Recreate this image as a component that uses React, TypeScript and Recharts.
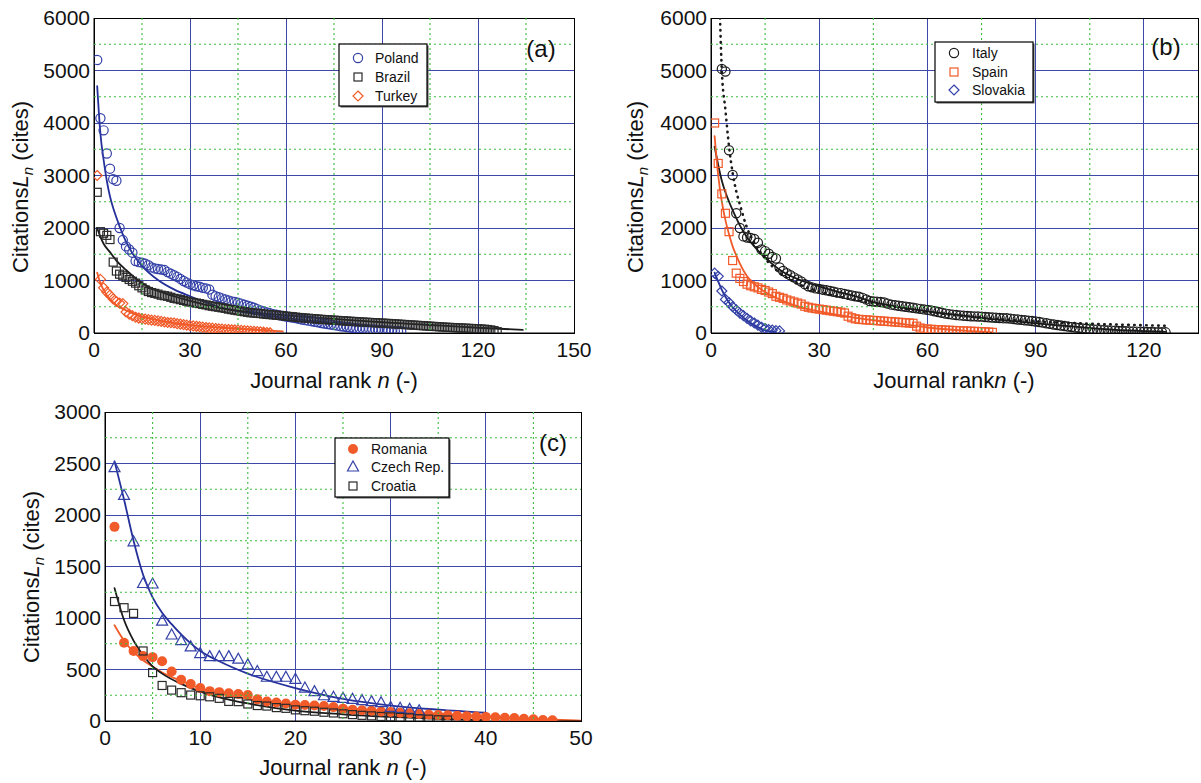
import React from "react";
import { ComposedChart, Scatter, Line, XAxis, YAxis, CartesianGrid, ReferenceArea } from "recharts";

// ---- panel (a): citations by journal rank ----
const polandL = [
  5200, 4090, 3860, 3420, 3130, 2930, 2900, 2000, 1770, 1650,
  1590, 1530, 1370, 1350, 1340, 1320, 1290, 1250, 1230, 1220,
  1210, 1200, 1160, 1130, 1100, 1070, 1030, 990, 960, 930,
  910, 890, 880, 860, 850, 830, 730, 700, 680, 660,
  640, 620, 600, 590, 575, 560, 540, 520, 500, 480,
  455, 430, 410, 390, 375, 360, 350, 335, 325, 315,
  305, 295, 285, 270, 255, 245, 235, 225, 215, 205,
  190, 180, 170, 160, 150, 140, 130, 122, 115, 105,
  95, 90, 85, 80, 75, 70, 68, 64, 60, 56,
  52, 46, 42, 38, 35, 32,
];
const brazilL = [
  2680, 1930, 1900, 1860, 1780, 1350, 1180, 1120, 1090, 1060,
  1020, 985, 950, 900, 860, 820, 790, 770, 755, 740,
  720, 710, 700, 680, 660, 650, 635, 620, 605, 590,
  580, 570, 560, 545, 535, 520, 510, 500, 490, 480,
  470, 455, 445, 435, 425, 415, 405, 395, 385, 380,
  375, 370, 362, 355, 350, 345, 340, 335, 330, 320,
  315, 310, 302, 295, 290, 285, 280, 275, 270, 265,
  260, 256, 252, 248, 244, 240, 236, 232, 228, 224,
  220, 216, 212, 208, 205, 202, 198, 195, 192, 189,
  185, 182, 178, 174, 170, 166, 162, 158, 154, 150,
  146, 142, 138, 134, 130, 126, 122, 118, 114, 110,
  107, 104, 101, 98, 95, 92, 89, 86, 83, 80,
  76, 72, 66, 58, 45, 25,
];
const turkeyL = [
  3000, 1020, 860, 780, 720, 650, 600, 570, 560, 400,
  360, 330, 300, 285, 275, 265, 255, 245, 240, 230,
  220, 210, 200, 195, 190, 180, 170, 160, 150, 140,
  135, 128, 120, 112, 105, 98, 92, 85, 80, 75,
  70, 66, 62, 58, 54, 50, 45, 40, 36, 32,
  27, 22, 15, 10, 5,
];
const polandFitN = [1, 2, 3, 4, 5, 6, 7, 8, 10, 12, 15, 20, 25, 30, 40, 50, 60, 70, 80, 90, 100];
const polandFitL = [4700, 3800, 3300, 2900, 2600, 2380, 2200, 2030, 1740, 1520, 1280, 1010, 830, 700, 480, 365, 285, 220, 165, 120, 85];
const brazilFitN = [1, 2, 3, 5, 7, 10, 15, 20, 25, 30, 40, 50, 60, 70, 80, 90, 100, 110, 120, 134];
const brazilFitL = [2000, 1830, 1700, 1540, 1380, 1200, 950, 800, 700, 610, 470, 390, 335, 290, 245, 205, 170, 135, 100, 60];
const turkeyFitN = [1, 2, 3, 4, 5, 7, 10, 15, 20, 25, 30, 40, 50, 59];
const turkeyFitL = [1150, 950, 820, 720, 645, 530, 430, 310, 245, 190, 152, 100, 62, 30];

// ---- panel (b) ----
const italyStart = 3;
const italyL = [
  5030, 4980, 3480, 3010, 2280, 2000, 1840, 1820, 1810, 1790,
  1720, 1590, 1560, 1510, 1450, 1420, 1250, 1180, 1140, 1100,
  1060, 1020, 980, 930, 890, 870, 850, 840, 825, 815,
  800, 785, 770, 760, 745, 730, 715, 700, 690, 670,
  640, 610, 600, 595, 590, 580, 560, 540, 530, 520,
  510, 500, 490, 480, 470, 460, 450, 440, 430, 415,
  400, 385, 370, 360, 350, 343, 335, 330, 325, 320,
  317, 314, 311, 305, 300, 295, 290, 285, 282, 280,
  273, 265, 258, 250, 243, 235, 228, 220, 210, 198,
  186, 174, 162, 152, 142, 132, 122, 112, 104, 96,
  89, 82, 76, 70, 65, 60, 55, 50, 46, 43,
  40, 37, 34, 31, 29, 27, 25, 23, 21, 19,
  17, 15, 14, 13,
];
const spainL = [
  4000, 3230, 2650, 2280, 1930, 1380, 1140, 1040, 980, 930,
  900, 880, 860, 830, 810, 780, 750, 700, 680, 660,
  630, 610, 590, 570, 550, 510, 490, 475, 465, 455,
  445, 435, 425, 415, 405, 395, 380, 320, 290, 270,
  260, 255, 250, 245, 240, 235, 230, 225, 220, 215,
  210, 205, 200, 195, 190, 185, 130, 95, 80, 75,
  70, 66, 62, 58, 55, 52, 49, 46, 43, 40,
  37, 34, 31, 28, 25, 22, 18, 12,
];
const slovakiaL = [1140, 1080, 800, 640, 580, 500, 440, 380, 330, 280, 230, 190, 150, 110, 85, 65, 55, 45, 40];
const italyFitN = [1, 2, 3, 4, 5, 6, 8, 10, 12, 15, 18, 20, 25, 30, 35, 40, 45, 50, 60, 70, 75, 80, 90, 100, 106, 110, 120, 126];
const italyFitL = [3550, 3200, 2900, 2680, 2500, 2340, 2050, 1820, 1650, 1430, 1260, 1160, 1000, 890, 790, 700, 590, 520, 410, 330, 285, 250, 185, 125, 90, 70, 35, 20];
const italyFit2N = [2.5, 3, 4, 5, 6, 7, 8, 10, 12, 15, 20, 25, 30, 40, 50, 60, 70, 80, 90, 100, 110, 120, 126];
const italyFit2L = [6000, 5000, 4250, 3550, 3050, 2700, 2450, 2000, 1720, 1420, 1100, 910, 790, 630, 510, 400, 325, 265, 220, 190, 165, 148, 138];
const spainFitN = [1, 2, 3, 4, 5, 6, 7, 8, 10, 12, 15, 20, 25, 30, 40, 50, 60, 70, 78];
const spainFitL = [3750, 3000, 2500, 2150, 1880, 1650, 1480, 1320, 1080, 930, 780, 610, 490, 410, 290, 200, 105, 45, 10];
const slovakiaFitN = [1, 2, 3, 4, 5, 6, 8, 10, 12, 14, 16, 18];
const slovakiaFitL = [1150, 980, 820, 690, 580, 490, 350, 240, 150, 80, 35, 10];

// ---- panel (c) ----
const romaniaL = [
  1885, 760, 680, 630, 620, 580, 480, 400, 360, 320,
  290, 280, 270, 262, 252, 210, 190, 180, 170, 158,
  155, 150, 145, 135, 120, 110, 105, 100, 92, 88,
  80, 75, 68, 62, 59, 55, 50, 47, 43, 40,
  36, 32, 28, 22, 16, 10, 7,
];
const czechL = [
  2460, 2190, 1740, 1335, 1330, 970, 835, 780, 720, 655,
  625, 625, 625, 600, 545, 480, 425, 425, 425, 405,
  320, 285, 245, 230, 220, 210, 198, 188, 178, 132,
  123, 113, 100,
];
const croatiaL = [
  1160, 1100, 1045, 680, 470, 345, 300, 275, 252, 245,
  235, 220, 190, 188, 165, 150, 145, 130, 123, 108,
  100, 95, 85, 78, 70, 62, 55, 50, 44, 40,
  35, 30, 22, 18, 12, 10,
];
const czechFitN = [1, 2, 3, 4, 5, 6, 7, 8, 10, 12, 15, 20, 25, 30, 35, 40];
const czechFitL = [2520, 2150, 1750, 1420, 1200, 1050, 940, 840, 680, 580, 460, 320, 215, 150, 110, 80];
const romaniaFitN = [1, 2, 3, 4, 5, 6, 8, 10, 12, 15, 20, 25, 30, 35, 40, 45, 50];
const romaniaFitL = [930, 780, 670, 590, 530, 470, 390, 315, 270, 215, 160, 125, 95, 70, 45, 20, 3];
const croatiaFitN = [1, 2, 3, 4, 5, 6, 8, 10, 12, 15, 20, 25, 30, 35, 40];
const croatiaFitL = [1290, 980, 780, 640, 530, 460, 360, 285, 230, 170, 100, 65, 40, 22, 10];

// axis ticks
const ticksA = [0, 30, 60, 90, 120, 150];
const minorA = [15, 45, 75, 105, 135];
const ticksB = [0, 30, 60, 90, 120];
const minorB = [15, 45, 75, 105];
const ticksC = [0, 10, 20, 30, 40, 50];
const minorC = [5, 15, 25, 35, 45];
const yTicks6000 = [0, 1000, 2000, 3000, 4000, 5000, 6000];
const yMinor6000 = [500, 1500, 2500, 3500, 4500, 5500];
const yTicks3000 = [0, 500, 1000, 1500, 2000, 2500, 3000];
const yMinor3000 = [250, 750, 1250, 1750, 2250, 2750];

const BLUE = "#3340a6";
const BLUE_LINE = "#25309a";
const RED = "#f15a29";
const BLACK = "#1a1a1a";
const GRID = "#3d48a8";
const MINOR = "#3dbd3d";
const FONT = "'Liberation Sans', Arial, Helvetica, sans-serif";
const X_AXIS_H = 30;

type Pt = { x: number; y: number };
const seq = (vals: number[], start = 1): Pt[] => vals.map((y, i) => ({ x: i + start, y }));
const pairs = (ns: number[], ls: number[]): Pt[] => ns.map((x, i) => ({ x, y: ls[i] }));

type Kind = "circle" | "square" | "diamond" | "triangle" | "dot";

function Marker({ kind, cx, cy, color }: { kind: Kind; cx: number; cy: number; color: string }) {
  const s = { fill: "none", stroke: color, strokeWidth: 1.2 };
  if (kind === "circle") return <circle cx={cx} cy={cy} r={4.6} {...s} />;
  if (kind === "dot") return <circle cx={cx} cy={cy} r={5} fill={color} />;
  if (kind === "square") return <rect x={cx - 4} y={cy - 4} width={8} height={8} {...s} />;
  if (kind === "diamond")
    return <path d={`M${cx},${cy - 5}L${cx + 5},${cy}L${cx},${cy + 5}L${cx - 5},${cy}Z`} {...s} />;
  return <path d={`M${cx},${cy - 6}L${cx + 5.5},${cy + 4}L${cx - 5.5},${cy + 4}Z`} {...s} />;
}

interface Series { name: string; pts: Pt[]; kind: Kind; color: string }
interface Fit { pts: Pt[]; color: string; dotted?: boolean }

interface PanelProps {
  left: number; top: number; width: number; height: number;
  margin: { top: number; right: number; bottom: number; left: number };
  yWidth: number;
  xDomain: [number, number]; xTicks: number[]; xMinor: number[];
  yDomain: [number, number]; yTicks: number[]; yMinor: number[];
  series: Series[]; fits: Fit[];
}

// dotted minor grid over the same plot box as the chart
function MinorGrid(p: PanelProps) {
  const [x0, x1] = p.xDomain;
  const [y0, y1] = p.yDomain;
  const L = p.margin.left + p.yWidth;
  const R = p.width - p.margin.right;
  const T = p.margin.top;
  const B = p.height - p.margin.bottom - X_AXIS_H;
  const sx = (v: number) => L + ((v - x0) / (x1 - x0)) * (R - L);
  const sy = (v: number) => B - ((v - y0) / (y1 - y0)) * (B - T);
  return (
    <svg width={p.width} height={p.height} style={{ position: "absolute", left: 0, top: 0, pointerEvents: "none" }}>
      {p.xMinor.map((v) => (
        <line key={"x" + v} x1={sx(v)} x2={sx(v)} y1={T} y2={B} stroke={MINOR} strokeWidth={1.1} strokeDasharray="2 3" />
      ))}
      {p.yMinor.map((v) => (
        <line key={"y" + v} x1={L} x2={R} y1={sy(v)} y2={sy(v)} stroke={MINOR} strokeWidth={1.1} strokeDasharray="2 3" />
      ))}
    </svg>
  );
}

function Panel(p: PanelProps) {
  const [x0, x1] = p.xDomain;
  const [y0, y1] = p.yDomain;
  return (
    <div style={{ position: "absolute", left: p.left, top: p.top, width: p.width, height: p.height }}>
      <div style={{ position: "absolute", left: 0, top: 0 }}>
        <ComposedChart width={p.width} height={p.height} margin={p.margin}>
          <CartesianGrid stroke={GRID} strokeWidth={1} shapeRendering="crispEdges" />
          <XAxis
            type="number" dataKey="x" domain={p.xDomain} ticks={p.xTicks} interval={0} allowDataOverflow
            tickLine={false} axisLine={{ stroke: "#000" }} tick={{ fill: "#111", fontSize: 21 }}
            tickSize={4} tickMargin={5} height={X_AXIS_H}
          />
          <YAxis
            type="number" dataKey="y" domain={p.yDomain} ticks={p.yTicks} interval={0} allowDataOverflow
            tickLine={false} axisLine={{ stroke: "#000" }} tick={{ fill: "#111", fontSize: 21 }}
            tickSize={4} tickMargin={0} width={p.yWidth}
          />
          <ReferenceArea x1={x0} x2={x1} y1={y0} y2={y1} fill="none" fillOpacity={0} stroke="#000" strokeWidth={1} ifOverflow="visible" shapeRendering="crispEdges" />
          {p.series.map((s) => (
            <Scatter
              key={s.name} name={s.name} data={s.pts} dataKey="y" isAnimationActive={false}
              shape={(sp: any) => <Marker kind={s.kind} cx={sp.cx} cy={sp.cy} color={s.color} />}
            />
          ))}
          {p.fits.map((f, i) => (
            <Line
              key={"fit" + i} data={f.pts} dataKey="y" type="monotone" dot={false} activeDot={false}
              stroke={f.color} strokeWidth={f.dotted ? 2.6 : 1.8}
              strokeDasharray={f.dotted ? "0.5 5.5" : undefined} strokeLinecap="round"
              isAnimationActive={false}
            />
          ))}
        </ComposedChart>
      </div>
      <MinorGrid {...p} />
    </div>
  );
}

function YTitle({ x, y }: { x: number; y: number }) {
  return (
    <text transform={`rotate(-90 ${x} ${y})`} x={x} y={y + 8} textAnchor="middle" fontSize={22} fill="#111">
      Citations<tspan fontStyle="italic">L</tspan>
      <tspan fontStyle="italic" fontSize={15} dy={5}>n</tspan>
      <tspan dy={-5}> (cites)</tspan>
    </text>
  );
}

function XTitle({ x, y, gap }: { x: number; y: number; gap: boolean }) {
  return (
    <text x={x} y={y + 8} textAnchor="middle" fontSize={22} fill="#111">
      {gap ? "Journal rank " : "Journal rank"}<tspan fontStyle="italic">n</tspan> (-)
    </text>
  );
}

function LegendBox({ x, y, w, h, rows, mx, tx, items }: {
  x: number; y: number; w: number; h: number; rows: number[]; mx: number; tx: number; items: Series[];
}) {
  return (
    <g>
      <rect x={x + 1.5} y={y + 1.5} width={w} height={h} fill="#555" />
      <rect x={x} y={y} width={w} height={h} fill="#fff" stroke="#000" strokeWidth={1.2} />
      {items.map((s, i) => (
        <g key={s.name}>
          <Marker kind={s.kind} cx={x + mx} cy={rows[i]} color={s.color} />
          <text x={x + tx} y={rows[i] + 5} fontSize={14} fill="#111">{s.name}</text>
        </g>
      ))}
    </g>
  );
}

export default function App() {
  const seriesA: Series[] = [
    { name: "Poland", pts: seq(polandL), kind: "circle", color: BLUE },
    { name: "Brazil", pts: seq(brazilL), kind: "square", color: "#2a2a2a" },
    { name: "Turkey", pts: seq(turkeyL), kind: "diamond", color: RED },
  ];
  const fitsA: Fit[] = [
    { pts: pairs(polandFitN, polandFitL), color: BLUE_LINE },
    { pts: pairs(brazilFitN, brazilFitL), color: BLACK },
    { pts: pairs(turkeyFitN, turkeyFitL), color: RED },
  ];
  const seriesB: Series[] = [
    { name: "Italy", pts: seq(italyL, italyStart), kind: "circle", color: BLACK },
    { name: "Spain", pts: seq(spainL), kind: "square", color: RED },
    { name: "Slovakia", pts: seq(slovakiaL), kind: "diamond", color: BLUE },
  ];
  const fitsB: Fit[] = [
    { pts: pairs(italyFitN, italyFitL), color: BLACK },
    { pts: pairs(italyFit2N, italyFit2L), color: BLACK, dotted: true },
    { pts: pairs(spainFitN, spainFitL), color: RED },
    { pts: pairs(slovakiaFitN, slovakiaFitL), color: BLUE_LINE },
  ];
  const seriesC: Series[] = [
    { name: "Romania", pts: seq(romaniaL), kind: "dot", color: RED },
    { name: "Czech Rep.", pts: seq(czechL), kind: "triangle", color: BLUE },
    { name: "Croatia", pts: seq(croatiaL), kind: "square", color: "#2a2a2a" },
  ];
  const fitsC: Fit[] = [
    { pts: pairs(czechFitN, czechFitL), color: BLUE_LINE },
    { pts: pairs(romaniaFitN, romaniaFitL), color: RED },
    { pts: pairs(croatiaFitN, croatiaFitL), color: BLACK },
  ];

  return (
    <div style={{ position: "absolute", left: 0, top: 0, width: 1201, height: 783, background: "#fff", fontFamily: FONT, overflow: "hidden" }}>
      <Panel
        left={0} top={0} width={600} height={395}
        margin={{ top: 18, right: 26, bottom: 32, left: 0 }} yWidth={94}
        xDomain={[0, 150]} xTicks={ticksA} xMinor={minorA}
        yDomain={[0, 6000]} yTicks={yTicks6000} yMinor={yMinor6000}
        series={seriesA} fits={fitsA}
      />
      <Panel
        left={600} top={0} width={601} height={395}
        margin={{ top: 18, right: 3, bottom: 32, left: 0 }} yWidth={111}
        xDomain={[0, 135]} xTicks={ticksB} xMinor={minorB}
        yDomain={[0, 6000]} yTicks={yTicks6000} yMinor={yMinor6000}
        series={seriesB} fits={fitsB}
      />
      <Panel
        left={0} top={392} width={600} height={391}
        margin={{ top: 20, right: 19, bottom: 32, left: 0 }} yWidth={105}
        xDomain={[0, 50]} xTicks={ticksC} xMinor={minorC}
        yDomain={[0, 3000]} yTicks={yTicks3000} yMinor={yMinor3000}
        series={seriesC} fits={fitsC}
      />
      <svg width={1201} height={783} style={{ position: "absolute", left: 0, top: 0, pointerEvents: "none", fontFamily: FONT }}>
        <YTitle x={20} y={187} />
        <YTitle x={635} y={187} />
        <YTitle x={31} y={577} />
        <XTitle x={334} y={380} gap />
        <XTitle x={954} y={380} gap={false} />
        <XTitle x={343} y={767} gap />
        <text x={541} y={57} textAnchor="middle" fontSize={24} fill="#111">(a)</text>
        <text x={1166} y={55} textAnchor="middle" fontSize={24} fill="#111">(b)</text>
        <text x={553} y={451} textAnchor="middle" fontSize={24} fill="#111">(c)</text>
        <LegendBox x={339} y={44} w={88} h={62} rows={[58, 77, 96]} mx={19} tx={36} items={seriesA} />
        <LegendBox x={935} y={42} w={98} h={60} rows={[53, 72, 90]} mx={19} tx={37} items={seriesB} />
        <LegendBox x={335} y={438} w={114} h={59} rows={[449, 467, 486]} mx={18} tx={36} items={seriesC} />
      </svg>
    </div>
  );
}
